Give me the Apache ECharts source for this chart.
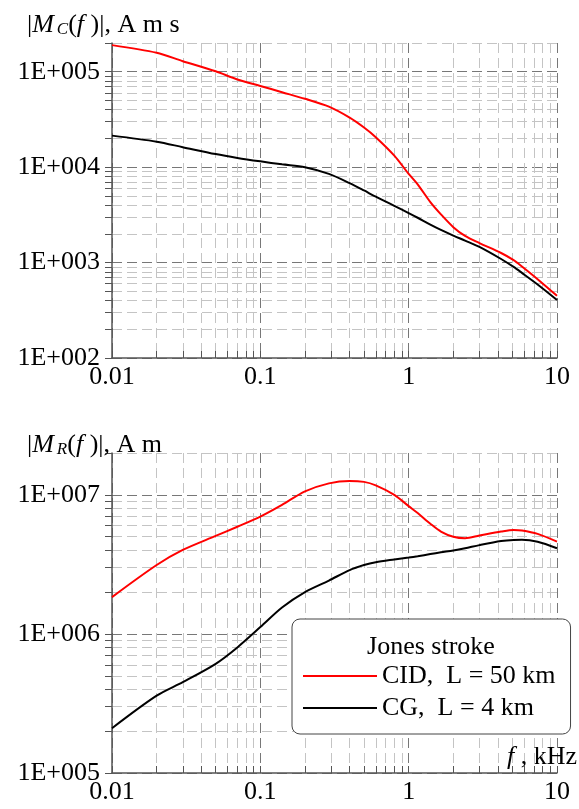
<!DOCTYPE html>
<html>
<head>
<meta charset="utf-8">
<script src="https://cdn.jsdelivr.net/npm/echarts@6/dist/echarts.min.js"></script>
<style>
  html, body { margin: 0; padding: 0; background: #fff; }
  #chart { width: 579px; height: 809px; }
</style>
</head>
<body>
<div id="chart"></div>
<script>
// frequency points, kHz
const freqs = [0.01, 0.02, 0.03, 0.05, 0.07, 0.1, 0.14, 0.2, 0.29, 0.4, 0.5, 0.6, 0.8,
               1, 1.15, 1.4, 1.65, 2, 2.4, 3, 4.2, 5.1, 5.8, 7.4, 10];

// |M_C(f)|, A m s
const chargeCid = [1.9e5, 1.58e5, 1.29e5, 1.01e5, 8.3e4, 7.1e4, 6.1e4, 5.2e4, 4.3e4, 3.3e4, 2.6e4, 2.06e4, 1.32e4,
                   8.5e3, 6.6e3, 4.3e3, 3.2e3, 2.35e3, 1.9e3, 1.6e3, 1.26e3, 1.06e3, 910, 670, 448];
const chargeCg = [2.14e4, 1.85e4, 1.62e4, 1.37e4, 1.25e4, 1.15e4, 1.07e4, 1.0e4, 8.5e3, 6.8e3, 5.7e3, 4.9e3, 3.93e3,
                  3.3e3, 2.95e3, 2.5e3, 2.2e3, 1.92e3, 1.7e3, 1.46e3, 1.09e3, 900, 780, 590, 406];

// |M_R(f)|, A m
const currentCid = [1.84e6, 3.13e6, 4.02e6, 5.07e6, 5.9e6, 6.98e6, 8.47e6, 1.06e7, 1.21e7, 1.26e7, 1.24e7, 1.17e7, 1.0e7,
                    8.3e6, 7.4e6, 6.2e6, 5.45e6, 5.0e6, 4.88e6, 5.1e6, 5.45e6, 5.6e6, 5.55e6, 5.24e6, 4.61e6];
const currentCg = [2.1e5, 3.6e5, 4.5e5, 6.1e5, 8.0e5, 1.12e6, 1.55e6, 2.0e6, 2.42e6, 2.88e6, 3.13e6, 3.28e6, 3.43e6,
                   3.54e6, 3.62e6, 3.75e6, 3.86e6, 3.98e6, 4.13e6, 4.35e6, 4.65e6, 4.74e6, 4.75e6, 4.6e6, 4.13e6];

const seriesNames = ['CID,  L = 50 km', 'CG,  L = 4 km'];
const xLabels = [0.01, 0.1, 1, 10];
const topLabels = [1e2, 1e3, 1e4, 1e5];
const bottomLabels = [1e5, 1e6, 1e7];

const FONT = '"Liberation Serif", "Times New Roman", serif';
const MAJOR = '#777';
const MINOR = '#c4c4c4';

// decade ticks 1..9 between two powers of ten, up to max
function logTicks(minExp, maxExp, maxVal) {
    const out = [];
    for (let e = minExp; e <= maxExp; e++) {
        for (let m = 1; m <= 9; m++) {
            const v = +(m * Math.pow(10, e)).toPrecision(3);
            if (v <= maxVal * 1.0001) out.push(v);
        }
    }
    return out;
}

const xTicks = logTicks(-2, 1, 10);
const topTicks = logTicks(2, 5, 2e5);
const bottomTicks = logTicks(5, 7, 2e7);

const gridColors = ticks => ticks.map(v => {
    const l = Math.log10(v);
    return Math.abs(l - Math.round(l)) < 1e-6 ? MAJOR : MINOR;
});

function xAxis(gridIndex) {
    return {
        type: 'log', logBase: 10, gridIndex: gridIndex, min: 0.01, max: 10,
        axisLine: { show: true, lineStyle: { color: '#555', width: 1.5 } },
        axisTick: { show: true, inside: true, length: 7, customValues: xTicks, lineStyle: { color: '#555' } },
        axisLabel: {
            customValues: xLabels, margin: 6, color: '#000', fontFamily: FONT, fontSize: 26,
            formatter: v => String(+(+v).toPrecision(2))
        },
        splitLine: { show: true, lineStyle: { color: gridColors(xTicks), type: [10, 5], width: 1 } }
    };
}

function yAxis(gridIndex, min, max, ticks, labels) {
    return {
        type: 'log', logBase: 10, gridIndex: gridIndex, min: min, max: max,
        axisLine: { show: true, lineStyle: { color: '#555', width: 1.5 } },
        axisTick: { show: true, length: 7, customValues: ticks, lineStyle: { color: '#555' } },
        axisLabel: {
            customValues: labels, margin: 12, color: '#000', fontFamily: FONT, fontSize: 26,
            formatter: v => '1E+' + String(Math.round(Math.log10(v))).padStart(3, '0')
        },
        splitLine: { show: true, lineStyle: { color: gridColors(ticks), type: [10, 5], width: 1 } }
    };
}

function line(name, color, values, idx) {
    return {
        name: name, type: 'line', xAxisIndex: idx, yAxisIndex: idx,
        data: freqs.map((f, i) => [f, values[i]]),
        smooth: 0.3, symbol: 'none', showSymbol: false,
        lineStyle: { color: color, width: 2 }, itemStyle: { color: color },
        z: 5
    };
}

const richBase = {
    fontFamily: FONT, fontSize: 26, lineHeight: 26, fontWeight: 'normal',
    color: '#000', verticalAlign: 'bottom'
};
const rich = {
    n: Object.assign({}, richBase),
    i: Object.assign({}, richBase, { fontStyle: 'italic' }),
    s: Object.assign({}, richBase, { fontSize: 17, lineHeight: 17, fontStyle: 'italic', padding: [0, 0, 0, 3] })
};
const titleStyle = { fontFamily: FONT, fontWeight: 'normal', fontSize: 26, color: '#000', rich: rich };

const chart = echarts.init(document.getElementById('chart'));
chart.setOption({
    animation: false,
    backgroundColor: '#fff',
    title: [
        { text: '{n||}{i|M}{s|C}{n|(}{i|f}{n| )|, A m s}', left: 27, top: 12, padding: 0, textStyle: titleStyle },
        { text: '{n||}{i|M}{s|R}{n|(}{i|f}{n| )|, A m}', left: 27, top: 432, padding: 0, textStyle: titleStyle },
        { text: '{i|f}{n| , kHz}', right: 2, top: 744, padding: 0, textStyle: titleStyle }
    ],
    grid: [
        { left: 112, right: 22, top: 43, height: 315 },
        { left: 112, right: 22, top: 453, height: 320 }
    ],
    xAxis: [xAxis(0), xAxis(1)],
    yAxis: [
        yAxis(0, 100, 2e5, topTicks, topLabels),
        yAxis(1, 1e5, 2e7, bottomTicks, bottomLabels)
    ],
    legend: {
        data: seriesNames,
        orient: 'vertical',
        left: 292, top: 619,
        padding: [42, 15, 11, 11],
        icon: 'rect',
        itemWidth: 74, itemHeight: 2, itemGap: 2,
        backgroundColor: '#fff', borderColor: '#444', borderWidth: 1, borderRadius: 8,
        textStyle: { fontFamily: FONT, fontSize: 26, lineHeight: 30, color: '#000' }
    },
    graphic: [{
        type: 'text', x: 431, y: 647, z: 100,
        style: { text: 'Jones stroke', font: '26px ' + FONT, fill: '#000', align: 'center', verticalAlign: 'middle' }
    }],
    series: [
        line(seriesNames[0], '#ff0000', chargeCid, 0),
        line(seriesNames[1], '#000000', chargeCg, 0),
        line(seriesNames[0], '#ff0000', currentCid, 1),
        line(seriesNames[1], '#000000', currentCg, 1)
    ]
});
</script>
</body>
</html>
